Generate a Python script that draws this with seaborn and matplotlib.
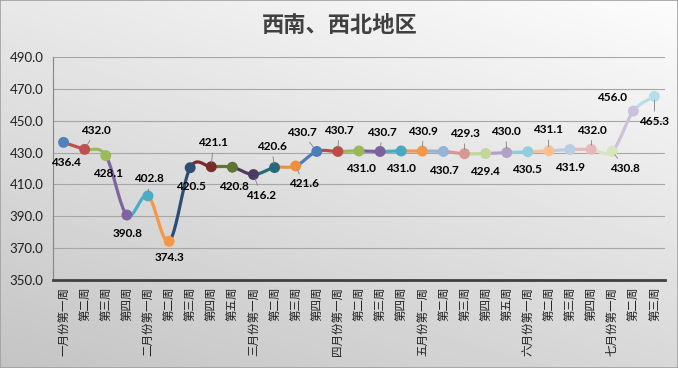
import numpy as np
import matplotlib
matplotlib.use("Agg")
import matplotlib.pyplot as plt
import seaborn as sns

title = "西南、西北地区"

weeks = ["一月份第一周", "第二周", "第三周", "第四周",
         "二月份第一周", "第二周", "第三周", "第四周", "第五周",
         "三月份第一周", "第二周", "第三周", "第四周",
         "四月份第一周", "第二周", "第三周", "第四周",
         "五月份第一周", "第二周", "第三周", "第四周", "第五周",
         "六月份第一周", "第二周", "第三周", "第四周",
         "七月份第一周", "第二周", "第三周"]

values = [436.4, 432.0, 428.1, 390.8, 402.8, 374.3, 420.5, 421.1, 420.8,
          416.2, 420.6, 421.6, 430.7, 430.7, 431.0, 430.7, 431.0, 430.9,
          430.7, 429.3, 429.4, 430.0, 430.5, 431.1, 431.9, 432.0, 430.8,
          456.0, 465.3]

yticks = [350, 370, 390, 410, 430, 450, 470, 490]

# excel "vary colors by point" palette
point_colors = ["#4F81BD", "#C0504D", "#9BBB59", "#8064A2", "#4BACC6", "#F79646",
                "#2C4D75", "#772C2A", "#5F7530", "#4D3B62", "#276A7C", "#F0903E",
                "#4A7EBB", "#BE4B48", "#98B954", "#7D60A0", "#46AAC5", "#F79646",
                "#95B3D7", "#D99694", "#C3D69B", "#B3A2C7", "#93CDDD", "#FAC090",
                "#B9CDE5", "#E6B9B8", "#D7E4BD", "#CCC1DA", "#B7DEE8"]

# label offsets in pixels (dx, dy; dy down), and whether a leader line is drawn
label_offsets = [(2, 20), (11, -19), (2, 18), (1, 18), (1, -17), (0, 16),
                 (1, 19), (2, -24), (2, 19), (8, 21), (-3, -21), (8, 18),
                 (-15, -19), (1, -21), (2, 18), (2, -19), (0, 18), (1, -20),
                 (0, 19), (0, -20), (-1, 18), (-1, -21), (-1, 18), (-1, -21),
                 (0, 18), (1, -19), (13, 17), (-21, -14), (0, 25)]
leaders = [False, True, False, False, True, False, False, True, False, True,
           True, True, True, True, False, True, False, True, False, True,
           False, True, False, True, False, True, True, False, True]


def smooth_segment(pts, i, n=40):
    # cubic bezier between point i and i+1, catmull-rom style like excel smoothing
    p0 = pts[max(i - 1, 0)]
    p1 = pts[i]
    p2 = pts[i + 1]
    p3 = pts[min(i + 2, len(pts) - 1)]
    c1 = p1 + (p2 - p0) / 6.0
    c2 = p2 - (p3 - p1) / 6.0
    t = np.linspace(0, 1, n)[:, None]
    return ((1 - t) ** 3) * p1 + 3 * ((1 - t) ** 2) * t * c1 + 3 * (1 - t) * t ** 2 * c2 + t ** 3 * p2


sns.set_style("white")
plt.rcParams['font.family'] = ['Lato', 'Noto Sans CJK SC', 'DejaVu Sans']

fig = plt.figure(figsize=(6.78, 3.68), dpi=100)

# gradient background
bg = fig.add_axes([0, 0, 1, 1], zorder=-10)
ty = np.linspace(0, 1, 200)[:, None]
tx = np.linspace(1, 0, 300)[None, :]
grad = (252 - 36 * ty - 20 * tx) / 255.0
bg.imshow(grad, cmap="gray", vmin=0, vmax=1, aspect="auto", extent=[0, 1, 0, 1])
bg.set_axis_off()
fig.patches.append(plt.Rectangle((0, 0), 1, 1, transform=fig.transFigure,
                                 fill=False, edgecolor="#A0A0A0", lw=1.2))

ax = fig.add_axes([53 / 678, 1 - 280 / 368, 612 / 678, 223 / 368])
ax.set_facecolor("none")

x = np.arange(len(values))
pts = np.column_stack([x, values]).astype(float)
for i in range(len(values) - 1):
    seg = smooth_segment(pts, i)
    ax.plot(seg[:, 0], seg[:, 1], color=point_colors[i + 1], lw=2.3,
            solid_capstyle="round", zorder=3)

sns.scatterplot(x=x, y=values, hue=x, palette=point_colors, legend=False,
                s=62, edgecolor="none", ax=ax, zorder=4)

for i, v in enumerate(values):
    dx, dy = label_offsets[i]
    if leaders[i]:
        ax.annotate(f"{v:.1f}", (i, v), xytext=(dx * 0.72, -dy * 0.72),
                    textcoords="offset points", ha="center", va="center",
                    fontsize=8.5, fontweight="bold", color="#000000", zorder=5,
                    arrowprops=dict(arrowstyle="-", color="#808080", lw=0.6,
                                    shrinkA=1, shrinkB=3))
    else:
        ax.annotate(f"{v:.1f}", (i, v), xytext=(dx * 0.72, -dy * 0.72),
                    textcoords="offset points", ha="center", va="center",
                    fontsize=8.5, fontweight="bold", color="#000000", zorder=5)

ax.set_xlim(-0.5, len(values) - 0.5)
ax.set_ylim(yticks[0], yticks[-1])
ax.set_yticks(yticks)
ax.set_yticklabels([f"{t:.1f}" for t in yticks], fontsize=9.5, color="#202020")
ax.yaxis.grid(True, color="#A6A6A6", lw=0.8)
ax.set_axisbelow(True)

ax.set_xticks(x)
ax.set_xticklabels(weeks, rotation=90, fontsize=8.3, color="#202020",
                   family=['Noto Sans CJK SC', 'DejaVu Sans'])
ax.set_xticks(np.arange(len(values) + 1) - 0.5, minor=True)
ax.tick_params(axis="x", which="major", length=0, pad=5)
ax.tick_params(axis="x", which="minor", length=4, width=1.2, color="#404040", direction="out")
ax.tick_params(axis="y", length=4, width=0.8, color="#868686", direction="out", pad=3)

for side in ["top", "right"]:
    ax.spines[side].set_visible(False)
ax.spines["left"].set_color("#868686")
ax.spines["left"].set_linewidth(0.8)
ax.spines["bottom"].set_color("#404040")
ax.spines["bottom"].set_linewidth(2)

fig.text(340 / 678, 1 - 25 / 368, title, ha="center", va="center", fontsize=16,
         fontweight="bold", color="#404040",
         family=['Noto Sans CJK SC', 'DejaVu Sans'])

fig.savefig("out.png", dpi=100)
